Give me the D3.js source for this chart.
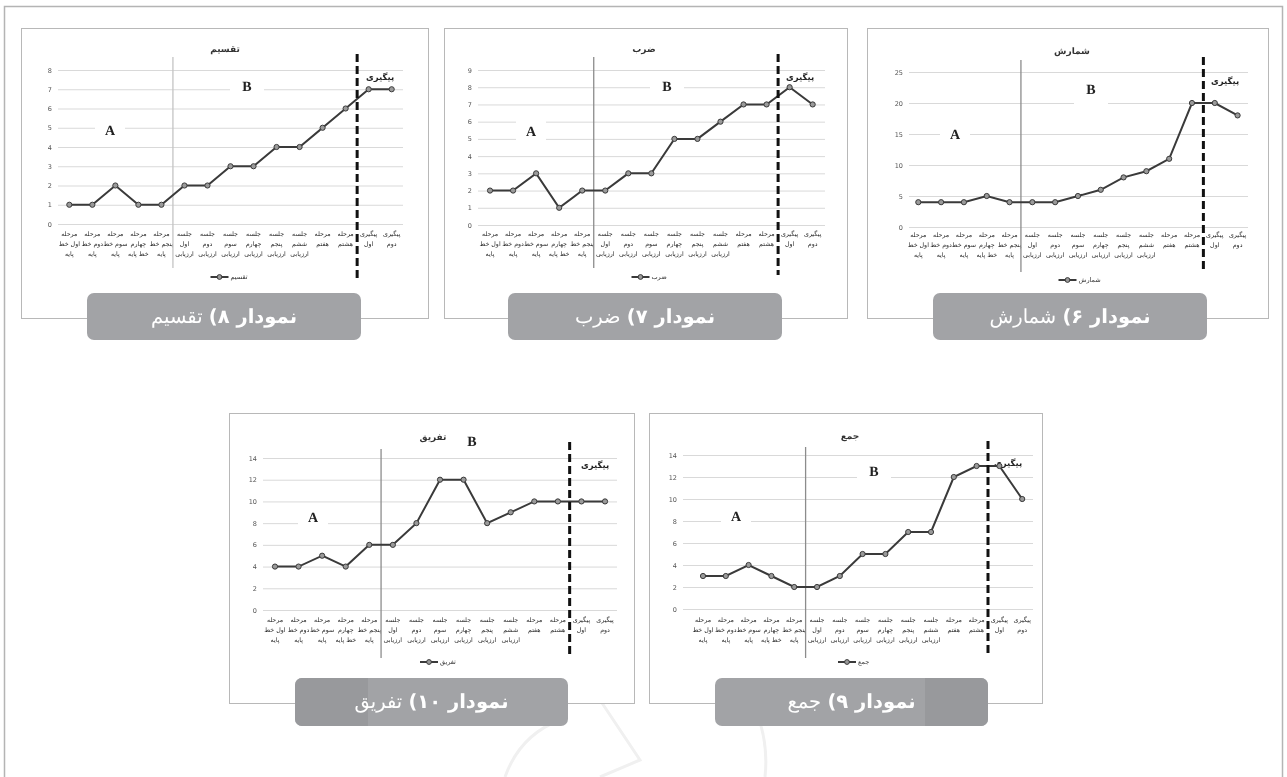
<!DOCTYPE html>
<html><head><meta charset="utf-8">
<script src="https://cdn.jsdelivr.net/npm/d3@7/dist/d3.min.js"></script>
<style>
html,body{margin:0;padding:0;background:#fff;}
svg{display:block;will-change:transform;}
svg text{-webkit-font-smoothing:antialiased;text-rendering:geometricPrecision;}
</style></head>
<body>
<svg id="fig" width="1287" height="777"></svg>
<script>
// ---------- data ----------
const categories = [
  "مرحله اول خط پایه","مرحله دوم خط پایه","مرحله سوم خط پایه","مرحله چهارم خط پایه","مرحله پنجم خط پایه",
  "جلسه اول ارزیابی","جلسه دوم ارزیابی","جلسه سوم ارزیابی","جلسه چهارم ارزیابی","جلسه پنجم ارزیابی","جلسه ششم ارزیابی",
  "مرحله هفتم","مرحله هشتم","پیگیری اول","پیگیری دوم"
];
const tickLabelLines = [
  ["مرحله","اول خط","پایه"],["مرحله","دوم خط","پایه"],["مرحله","سوم خط","پایه"],["مرحله","چهارم","خط پایه"],["مرحله","پنجم خط","پایه"],
  ["جلسه","اول","ارزیابی"],["جلسه","دوم","ارزیابی"],["جلسه","سوم","ارزیابی"],["جلسه","چهارم","ارزیابی"],["جلسه","پنجم","ارزیابی"],["جلسه","ششم","ارزیابی"],
  ["مرحله","هفتم"],["مرحله","هشتم"],["پیگیری","اول"],["پیگیری","دوم"]
];
const valuesDivision       = [1,1,2,1,1,2,2,3,3,4,4,5,6,7,7];
const valuesMultiplication = [2,2,3,1,2,2,3,3,5,5,6,7,7,8,7];
const valuesCounting       = [4,4,4,5,4,4,4,5,6,8,9,11,20,20,18];
const valuesSubtraction    = [4,4,5,4,6,6,8,12,12,8,9,10,10,10,10];
const valuesAddition       = [3,3,4,3,2,2,3,5,5,7,7,12,13,13,10];

const ticksDivision       = [0,1,2,3,4,5,6,7,8];
const ticksMultiplication = [0,1,2,3,4,5,6,7,8,9];
const ticksCounting       = [0,5,10,15,20,25];
const ticksSubtraction    = [0,2,4,6,8,10,12,14];
const ticksAddition       = [0,2,4,6,8,10,12,14];

const seriesNames   = ["تقسیم","ضرب","شمارش","تفریق","جمع"];
const captionNumber = ["نمودار ۸)","نمودار ۷)","نمودار ۶)","نمودار ۱۰)","نمودار ۹)"];
const phaseLabels   = ["A","B","پیگیری"];

// ---------- layout ----------
const panels = [
  {values:valuesDivision, ticks:ticksDivision, box:[21,28,428,318], band:[57.8,403.2], grid:[58,403], yr:[224,70], title:[225,50],
   A:[110,132], B:[247,88], P:[380,78], solidY:[57,268], solidColor:"#c4c4c4", dashY:[54,280], tickY:236, legendY:277, cap:[87,293,361,340], shade:null},
  {values:valuesMultiplication, ticks:ticksMultiplication, box:[444,28,847,318], band:[478.5,824.2], grid:[478,825], yr:[225,70], title:[644,50],
   A:[531,133], B:[667,88], P:[800,78], solidY:[57,268], solidColor:"#8c8c8c", dashY:[54,275], tickY:236, legendY:277, cap:[508,293,782,340], shade:null},
  {values:valuesCounting, ticks:ticksCounting, box:[867,28,1268,318], band:[906.9,1249], grid:[909,1248], yr:[227,72], title:[1072,52],
   A:[955,136], B:[1091,91], P:[1225,82], solidY:[60,272], solidColor:"#8c8c8c", dashY:[57,273], tickY:237, legendY:280, cap:[933,293,1207,340], shade:null},
  {values:valuesSubtraction, ticks:ticksSubtraction, box:[229,413,634,703], band:[263.2,616.8], grid:[263,617], yr:[610,458], title:[433,438],
   A:[313,519], B:[472,443], P:[595,466], solidY:[449,658], solidColor:"#8c8c8c", dashY:[442,657], tickY:622, legendY:662, cap:[295,678,568,726], shade:[295,368]},
  {values:valuesAddition, ticks:ticksAddition, box:[649,413,1042,703], band:[691.6,1033.6], grid:[683,1033], yr:[609,455], title:[850,437],
   A:[736,518], B:[874,473], P:[1008,464], solidY:[447,658], solidColor:"#8c8c8c", dashY:[441,657], tickY:622, legendY:662, cap:[715,678,988,726], shade:[925,988]}
];

const svg = d3.select("#fig");
const FONT = "'DejaVu Sans', 'Noto Sans', sans-serif";

// outer frame
svg.append("rect").attr("x",4.5).attr("y",6.5).attr("width",1278).attr("height",790)
  .attr("fill","none").attr("stroke","#b4b4b4").attr("stroke-width",1.5);

// faint watermark strokes near the bottom
const wm = svg.append("g").attr("fill","none").attr("stroke","#f0f0f0").attr("stroke-width",3);
wm.append("path").attr("d","M505,777 Q520,735 560,720");
wm.append("path").attr("d","M745,690 Q770,730 765,777");
wm.append("path").attr("d","M600,700 L640,760 L600,777");

const defs = svg.append("defs");

panels.forEach((p,i)=>{
  const g = svg.append("g");
  // panel border
  g.append("rect").attr("x",p.box[0]+0.5).attr("y",p.box[1]+0.5)
    .attr("width",p.box[2]-p.box[0]).attr("height",p.box[3]-p.box[1])
    .attr("fill","#fff").attr("stroke","#b8b8b8").attr("stroke-width",1);

  const x = d3.scaleBand().domain(categories).range(p.band);
  const cx = c => x(c) + x.bandwidth()/2;
  const y = d3.scaleLinear().domain([p.ticks[0], p.ticks[p.ticks.length-1]]).range(p.yr);

  // y axis with gridlines
  const ya = g.append("g").attr("transform",`translate(${p.grid[0]},0)`)
    .call(d3.axisLeft(y).tickValues(p.ticks).tickSize(-(p.grid[1]-p.grid[0])).tickPadding(6));
  ya.select(".domain").remove();
  ya.selectAll(".tick line").attr("stroke","#d9d9d9").attr("stroke-width",1);
  ya.selectAll(".tick text").attr("fill","#555").style("font-family",FONT).style("font-size","6.5px");

  // x axis labels
  const xa = g.append("g").attr("transform",`translate(0,${p.tickY-4})`)
    .call(d3.axisBottom(x).tickSize(0).tickPadding(0).tickFormat(()=>""));
  xa.select(".domain").remove();
  xa.selectAll(".tick text").each(function(d,k){
    const t = d3.select(this).attr("direction","rtl").attr("text-anchor","middle")
      .attr("fill","#2a2a2a").style("font-family",FONT).style("font-size","6.3px").attr("dy",null).attr("y",0);
    tickLabelLines[k].forEach((ln,j)=>{
      t.append("tspan").attr("x",0).attr("y",4 + j*10).text(ln);
    });
  });

  // title
  g.append("text").attr("x",p.title[0]).attr("y",p.title[1]).attr("text-anchor","middle").attr("dominant-baseline","middle")
    .attr("direction","rtl").style("font-family",FONT).style("font-size","9px").style("font-weight","bold").attr("fill","#333")
    .text(seriesNames[i]);

  // phase labels A / B with white boxes
  [["A",p.A,30],["B",p.B,34]].forEach(([lab,pos,w])=>{
    g.append("rect").attr("x",pos[0]-w/2).attr("y",pos[1]-13).attr("width",w).attr("height",28).attr("fill","#fff");
    g.append("text").attr("x",pos[0]).attr("y",pos[1]).attr("text-anchor","middle").attr("dominant-baseline","middle")
      .style("font-family","'Liberation Serif', serif").style("font-size","14px").style("font-weight","bold").attr("fill","#222")
      .text(lab);
  });
  g.append("text").attr("x",p.P[0]).attr("y",p.P[1]).attr("text-anchor","middle").attr("dominant-baseline","middle")
    .attr("direction","rtl").style("font-family",FONT).style("font-size","8.5px").style("font-weight","bold").attr("fill","#222")
    .text(phaseLabels[2]);

  // phase divider lines
  const b1 = x(categories[5]);
  const b2 = x(categories[13]);
  g.append("line").attr("x1",b1).attr("x2",b1).attr("y1",p.solidY[0]).attr("y2",p.solidY[1])
    .attr("stroke",p.solidColor).attr("stroke-width",1.3);

  // data line
  const line = d3.line().x((d,k)=>cx(categories[k])).y(d=>y(d));
  g.append("path").datum(p.values).attr("d",line).attr("fill","none").attr("stroke","#3a3a3a").attr("stroke-width",2);
  g.selectAll("circle.pt").data(p.values).join("circle").attr("class","pt")
    .attr("cx",(d,k)=>cx(categories[k])).attr("cy",d=>y(d)).attr("r",2.6)
    .attr("fill","#9a9a9a").attr("stroke","#3a3a3a").attr("stroke-width",1);

  g.append("line").attr("x1",b2).attr("x2",b2).attr("y1",p.dashY[0]).attr("y2",p.dashY[1])
    .attr("stroke","#111").attr("stroke-width",3).attr("stroke-dasharray","8,4");

  // legend
  const lx = (p.grid[0]+p.grid[1])/2;
  g.append("line").attr("x1",lx-20).attr("x2",lx-2).attr("y1",p.legendY).attr("y2",p.legendY).attr("stroke","#3a3a3a").attr("stroke-width",2);
  g.append("circle").attr("cx",lx-11).attr("cy",p.legendY).attr("r",2.4).attr("fill","#9a9a9a").attr("stroke","#3a3a3a");
  g.append("text").attr("x",lx).attr("y",p.legendY).attr("dominant-baseline","middle").attr("text-anchor","start")
    .style("font-family",FONT).style("font-size","6.5px").attr("fill","#333").text(seriesNames[i]);

  // caption box
  const cw = p.cap[2]-p.cap[0], chh = p.cap[3]-p.cap[1];
  g.append("rect").attr("x",p.cap[0]).attr("y",p.cap[1]).attr("width",cw).attr("height",chh)
    .attr("rx",7).attr("fill","#a2a3a6");
  if (p.shade) {
    const cid = "capclip"+i;
    defs.append("clipPath").attr("id",cid).append("rect")
      .attr("x",p.cap[0]).attr("y",p.cap[1]).attr("width",cw).attr("height",chh).attr("rx",7);
    g.append("rect").attr("clip-path",`url(#${cid})`).attr("x",p.shade[0]).attr("y",p.cap[1])
      .attr("width",p.shade[1]-p.shade[0]).attr("height",chh).attr("fill","#98999c");
  }
  const ct = g.append("text").attr("x",(p.cap[0]+p.cap[2])/2).attr("y",(p.cap[1]+p.cap[3])/2+1)
    .attr("text-anchor","middle").attr("dominant-baseline","middle").attr("direction","rtl")
    .style("font-family",FONT).style("font-size","19.5px").attr("fill","#fff");
  ct.append("tspan").style("font-weight","bold").text(captionNumber[i]);
  ct.append("tspan").text(" " + seriesNames[i]);
});
</script>
</body></html>
